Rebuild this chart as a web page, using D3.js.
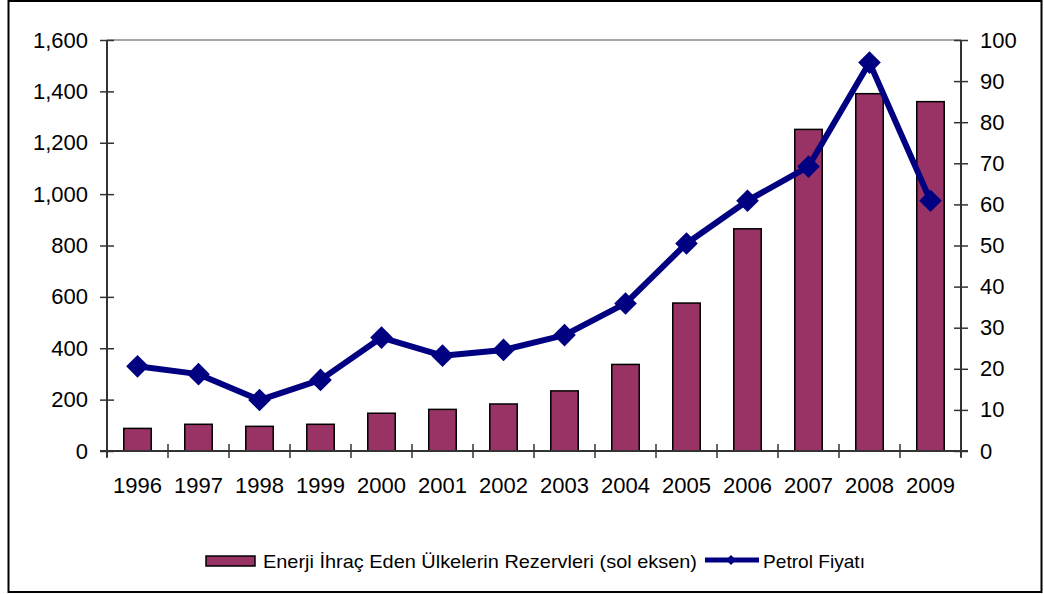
<!DOCTYPE html>
<html>
<head>
<meta charset="utf-8">
<script src="https://cdn.jsdelivr.net/npm/d3@7"></script>
<style>
  html, body { margin: 0; padding: 0; background: #fff; }
  svg { display: block; font-family: Arial, "Liberation Sans", sans-serif; }
</style>
</head>
<body>
<svg id="chart" width="1044" height="594"></svg>
<script>
// Years on the category axis
const years = ["1996","1997","1998","1999","2000","2001","2002","2003","2004","2005","2006","2007","2008","2009"];
// Reserves of energy-exporting countries (left axis)
const reserves = [88, 104, 96, 104, 147, 162, 183, 234, 337, 576, 865, 1252, 1391, 1360];
// Oil price (right axis)
const oilPrice = [20.6, 18.7, 12.4, 17.3, 27.6, 23.2, 24.6, 28.2, 35.9, 50.5, 60.9, 69.2, 94.5, 60.9];
// Axis ticks
const leftTicks = [0, 200, 400, 600, 800, 1000, 1200, 1400, 1600];
const rightTicks = [0, 10, 20, 30, 40, 50, 60, 70, 80, 90, 100];
// Legend entries
const legendLabels = ["Enerji İhraç Eden Ülkelerin Rezervleri (sol eksen)", "Petrol Fiyatı"];

const svg = d3.select("#chart");
const plot = { left: 107, right: 961, top: 40, bottom: 451 };

const x = d3.scaleBand().domain(years).range([plot.left, plot.right]).paddingInner(0.55).paddingOuter(0.275);
const xCenter = d => x(d) + x.bandwidth() / 2;
const step = (plot.right - plot.left) / years.length;
const yL = d3.scaleLinear().domain([0, 1600]).range([plot.bottom, plot.top]);
const yR = d3.scaleLinear().domain([0, 100]).range([plot.bottom, plot.top]);

// Outer frame
svg.append("rect").attr("x", 8.5).attr("y", 1).attr("width", 1033).attr("height", 591)
  .attr("fill", "none").attr("stroke", "#000").attr("stroke-width", 2);

// Plot area top border
svg.append("line").attr("x1", plot.left).attr("x2", plot.right).attr("y1", plot.top).attr("y2", plot.top)
  .attr("stroke", "#888").attr("stroke-width", 1.5);

// Bars
svg.append("g").selectAll("rect").data(years).join("rect")
  .attr("x", d => x(d))
  .attr("y", (d, i) => yL(reserves[i]))
  .attr("width", x.bandwidth())
  .attr("height", (d, i) => yL(0) - yL(reserves[i]))
  .attr("fill", "#993366")
  .attr("stroke", "#000")
  .attr("stroke-width", 1.5);

const axisColor = "#333";
const fontSize = 22;

// Left axis
const gL = svg.append("g").attr("transform", `translate(${plot.left},0)`)
  .call(d3.axisLeft(yL).tickValues(leftTicks).tickFormat(d3.format(",")).tickSize(7).tickPadding(12));
gL.selectAll("line").clone().attr("x2", 7);
// Right axis
const gR = svg.append("g").attr("transform", `translate(${plot.right},0)`)
  .call(d3.axisRight(yR).tickValues(rightTicks).tickSize(7).tickPadding(12));
gR.selectAll("line").clone().attr("x2", -7);
// Bottom axis with ticks at category boundaries
const gB = svg.append("g").attr("transform", `translate(0,${plot.bottom})`)
  .call(d3.axisBottom(x).tickSize(0).tickPadding(30));
gB.selectAll(".tick text").attr("dy", 0).attr("y", 42);
const bounds = d3.range(years.length + 1).map(i => plot.left + i * step);
gB.selectAll(".bound").data(bounds).join("line").attr("class", "bound")
  .attr("x1", d => d).attr("x2", d => d).attr("y1", -7).attr("y2", 7)
  .attr("stroke", axisColor).attr("stroke-width", 1.5);

[gL, gR, gB].forEach(g => {
  g.select(".domain").attr("stroke", axisColor).attr("stroke-width", 2);
  g.selectAll(".tick line").attr("stroke", axisColor).attr("stroke-width", 1.5);
  g.selectAll(".tick text").attr("font-size", fontSize).attr("fill", "#000")
    .attr("font-family", "Arial, 'Liberation Sans', sans-serif");
});
gL.select(".domain").attr("d", `M0,${plot.bottom + 6}V${plot.top}`);
gR.select(".domain").attr("d", `M0,${plot.bottom + 6}V${plot.top}`);
gB.select(".domain").attr("d", `M${plot.left - 7},0H${plot.right + 7}`);

// Oil price line
const line = d3.line().x((d, i) => xCenter(years[i])).y(d => yR(d));
svg.append("path").datum(oilPrice).attr("d", line)
  .attr("fill", "none").attr("stroke", "#000080").attr("stroke-width", 6).attr("stroke-linejoin", "round");
const diamond = d3.symbol().type(d3.symbolSquare).size(256);
svg.append("g").selectAll("path").data(oilPrice).join("path")
  .attr("d", diamond)
  .attr("transform", (d, i) => `translate(${xCenter(years[i])},${yR(d)}) rotate(45)`)
  .attr("fill", "#000080");

// Legend
const lg = svg.append("g").attr("font-size", 19).attr("font-family", "Arial, 'Liberation Sans', sans-serif");
lg.append("rect").attr("x", 206).attr("y", 556).attr("width", 49).attr("height", 10)
  .attr("fill", "#993366").attr("stroke", "#000").attr("stroke-width", 1.5);
lg.append("text").attr("x", 263).attr("y", 568).text(legendLabels[0])
  .attr("textLength", 434).attr("lengthAdjust", "spacingAndGlyphs");
lg.append("line").attr("x1", 705).attr("x2", 759).attr("y1", 560).attr("y2", 560)
  .attr("stroke", "#000080").attr("stroke-width", 5);
lg.append("path").attr("d", d3.symbol().type(d3.symbolSquare).size(50))
  .attr("transform", "translate(731,560) rotate(45)").attr("fill", "#000080");
lg.append("text").attr("x", 763).attr("y", 568).text(legendLabels[1])
  .attr("textLength", 102).attr("lengthAdjust", "spacingAndGlyphs");
</script>
</body>
</html>
